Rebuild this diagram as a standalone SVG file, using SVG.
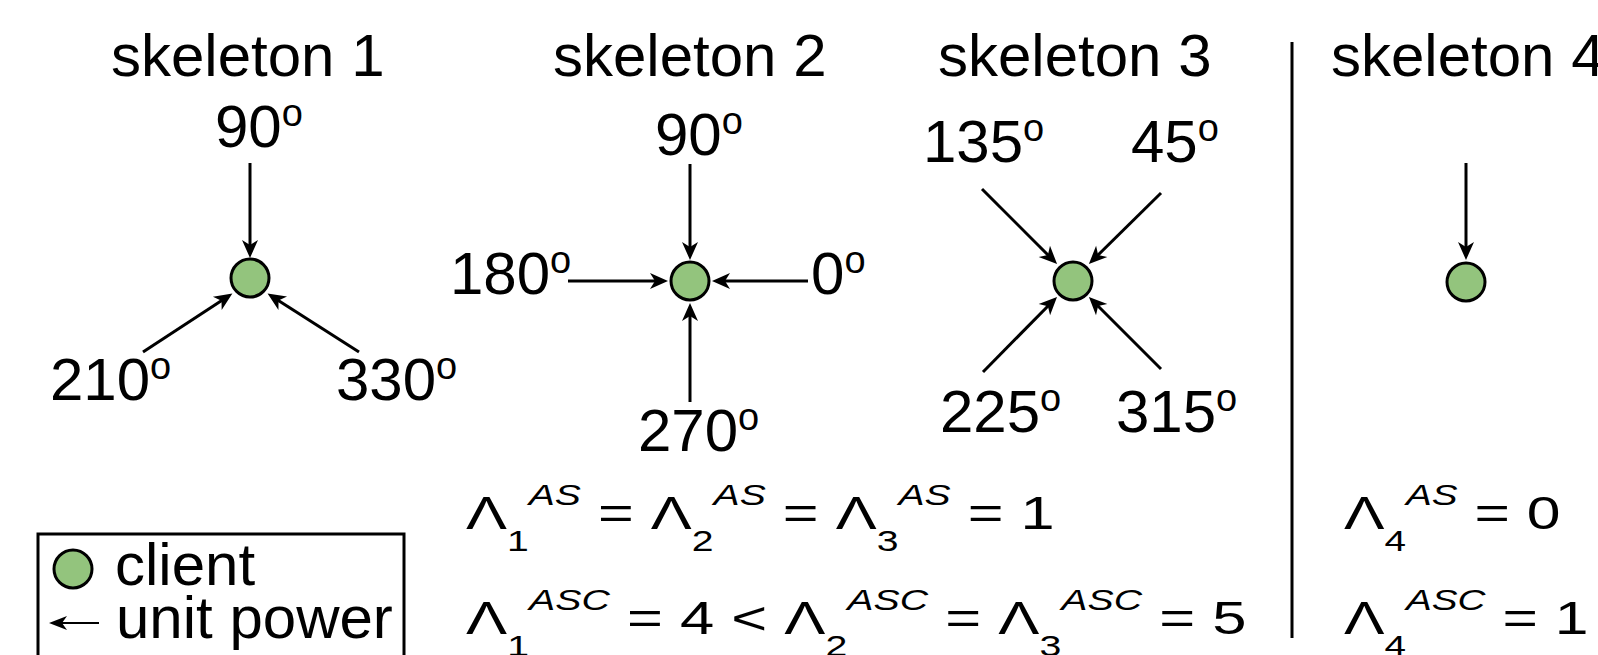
<svg xmlns="http://www.w3.org/2000/svg" width="1598" height="655" viewBox="0 0 1598 655">
  <style>
    text { font-family: "Liberation Sans", Arial, sans-serif; fill: #000; }
    .t { font-size: 60px; }
    .deg { font-size: 38px; }
    .f { font-size: 47px; }
    .s { font-size: 30px; }
    .i { font-size: 30px; font-style: italic; }
    .wire { stroke: #000; stroke-width: 3; fill: none; marker-end: url(#head); }
    .client { fill: #93c47d; stroke: #000; stroke-width: 3; }
  </style>
  <defs>
    <marker id="head" markerUnits="userSpaceOnUse" orient="auto" markerWidth="30" markerHeight="30" refX="0" refY="0" viewBox="-10 -15 30 30" overflow="visible">
      <path d="M10,0 L-8,-8 L-3,0 L-8,8 Z" fill="#000"/>
    </marker>
    <marker id="headThin" markerUnits="userSpaceOnUse" orient="auto" markerWidth="30" markerHeight="30" refX="0" refY="0" viewBox="-10 -15 30 30" overflow="visible">
      <path d="M8,0 L-10,-7 L-5,0 L-10,7 Z" fill="#000"/>
    </marker>
  </defs>

  <rect width="1598" height="655" fill="#fff"/>

  <!-- connectors: unit-power arrows pointing into each client -->
  <g id="connectors">
    <!-- skeleton 1 -->
    <line class="wire" x1="250" y1="163" x2="250" y2="248"/>
    <line class="wire" x1="143" y1="352" x2="224" y2="299"/>
    <line class="wire" x1="359" y1="352" x2="276" y2="299"/>
    <!-- skeleton 2 -->
    <line class="wire" x1="690" y1="164" x2="690" y2="250"/>
    <line class="wire" x1="568" y1="281" x2="658" y2="281"/>
    <line class="wire" x1="808" y1="281" x2="722" y2="281"/>
    <line class="wire" x1="690" y1="402" x2="690" y2="313"/>
    <!-- skeleton 3 -->
    <line class="wire" x1="982" y1="189" x2="1050" y2="257"/>
    <line class="wire" x1="1161" y1="193" x2="1096" y2="257"/>
    <line class="wire" x1="983" y1="372" x2="1050" y2="304"/>
    <line class="wire" x1="1161" y1="369" x2="1096" y2="304"/>
    <!-- skeleton 4 -->
    <line class="wire" x1="1466" y1="163" x2="1466" y2="250"/>
  </g>

  <!-- skeleton 1 -->
  <g id="skeleton1">
    <text class="t" x="111" y="76">skeleton 1</text>
    <circle class="client" cx="250" cy="278" r="19"/>
    <text class="t" x="215" y="147">90<tspan class="deg" dy="-21">o</tspan></text>
    <text class="t" x="50" y="400">210<tspan class="deg" dy="-21">o</tspan></text>
    <text class="t" x="336" y="400">330<tspan class="deg" dy="-21">o</tspan></text>
  </g>

  <!-- skeleton 2 -->
  <g id="skeleton2">
    <text class="t" x="553" y="76">skeleton 2</text>
    <circle class="client" cx="690" cy="281" r="19"/>
    <text class="t" x="655" y="155">90<tspan class="deg" dy="-21">o</tspan></text>
    <text class="t" x="450" y="294">180<tspan class="deg" dy="-21">o</tspan></text>
    <text class="t" x="811" y="294">0<tspan class="deg" dy="-21">o</tspan></text>
    <text class="t" x="638" y="451">270<tspan class="deg" dy="-21">o</tspan></text>
  </g>

  <!-- skeleton 3 -->
  <g id="skeleton3">
    <text class="t" x="938" y="76">skeleton 3</text>
    <circle class="client" cx="1073" cy="281" r="19"/>
    <text class="t" x="923" y="162">135<tspan class="deg" dy="-21">o</tspan></text>
    <text class="t" x="1131" y="162">45<tspan class="deg" dy="-21">o</tspan></text>
    <text class="t" x="940" y="432">225<tspan class="deg" dy="-21">o</tspan></text>
    <text class="t" x="1116" y="432">315<tspan class="deg" dy="-21">o</tspan></text>
  </g>

  <!-- divider -->
  <line id="divider" x1="1292" y1="42" x2="1292" y2="638" stroke="#000" stroke-width="3"/>

  <!-- skeleton 4 -->
  <g id="skeleton4">
    <text class="t" x="1331" y="76">skeleton 4</text>
    <circle class="client" cx="1466" cy="282" r="19"/>
  </g>

  <!-- capacity values -->
  <g id="formulas">
    <g transform="translate(466,529) scale(1.305,1)">
      <text class="f" x="0" y="0">Λ<tspan class="s" dy="22">1</tspan><tspan class="i" dy="-46">AS</tspan><tspan dy="24"> = Λ</tspan><tspan class="s" dy="22">2</tspan><tspan class="i" dy="-46">AS</tspan><tspan dy="24"> = Λ</tspan><tspan class="s" dy="22">3</tspan><tspan class="i" dy="-46">AS</tspan><tspan dy="24"> = 1</tspan></text>
    </g>
    <g transform="translate(466,634) scale(1.31,1)">
      <text class="f" x="0" y="0">Λ<tspan class="s" dy="22">1</tspan><tspan class="i" dy="-46">ASC</tspan><tspan dy="24"> = 4 &lt; Λ</tspan><tspan class="s" dy="22">2</tspan><tspan class="i" dy="-46">ASC</tspan><tspan dy="24"> = Λ</tspan><tspan class="s" dy="22">3</tspan><tspan class="i" dy="-46">ASC</tspan><tspan dy="24"> = 5</tspan></text>
    </g>
    <g transform="translate(1344,529) scale(1.29,1)">
      <text class="f" x="0" y="0">Λ<tspan class="s" dy="22">4</tspan><tspan class="i" dy="-46">AS</tspan><tspan dy="24"> = 0</tspan></text>
    </g>
    <g transform="translate(1344,634) scale(1.29,1)">
      <text class="f" x="0" y="0">Λ<tspan class="s" dy="22">4</tspan><tspan class="i" dy="-46">ASC</tspan><tspan dy="24"> = 1</tspan></text>
    </g>
  </g>

  <!-- legend -->
  <g id="legend">
    <rect x="38" y="534" width="366" height="140" fill="none" stroke="#000" stroke-width="3"/>
    <circle class="client" cx="73" cy="569" r="19"/>
    <text class="t" x="115" y="585">client</text>
    <line x1="99" y1="623" x2="57" y2="623" stroke="#000" stroke-width="2" marker-end="url(#headThin)"/>
    <text class="t" x="116" y="638">unit power</text>
  </g>
</svg>
